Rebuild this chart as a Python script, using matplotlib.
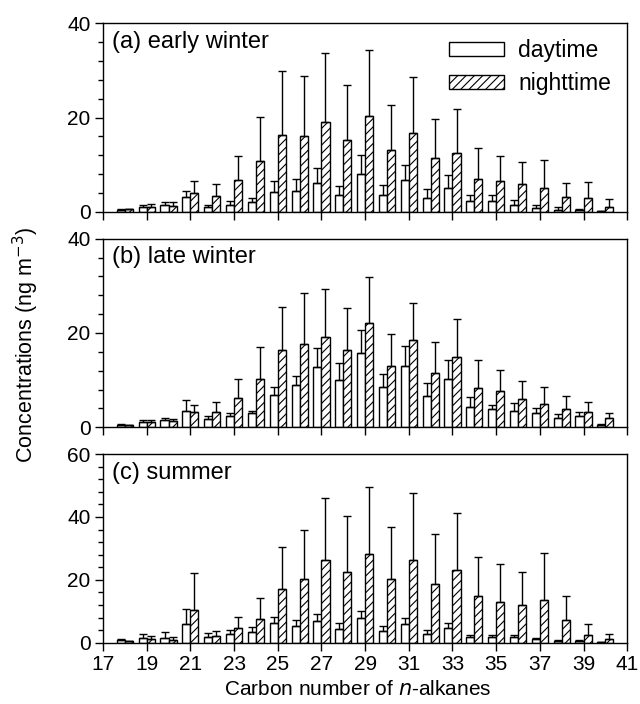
import matplotlib
matplotlib.use("Agg")
import matplotlib.pyplot as plt
import numpy as np
from matplotlib.ticker import MultipleLocator

plt.rcParams['font.family'] = ['Liberation Sans', 'DejaVu Sans']
plt.rcParams['hatch.linewidth'] = 0.8

# carbon numbers C18 - C40
carbon = np.arange(18, 41)

# (a) early winter
ew_day = [0.5, 1.05, 1.4, 3.1, 1.1, 1.55, 2.0, 4.2, 4.4, 6.1, 3.6, 8.0,
          3.6, 6.8, 3.0, 5.1, 2.3, 2.3, 1.5, 0.85, 0.4, 0.3, 0.1]
ew_day_err = [0.1, 0.35, 0.7, 1.4, 0.4, 0.7, 1.0, 2.3, 2.6, 3.3, 1.8, 4.0,
              2.2, 3.2, 1.9, 2.8, 1.3, 1.3, 1.1, 0.65, 0.7, 0.4, 0.1]
ew_night = [0.55, 1.05, 1.3, 4.1, 3.3, 6.7, 10.8, 16.3, 16.0, 19.0, 15.2, 20.4,
            13.1, 16.8, 11.4, 12.5, 7.0, 6.5, 5.9, 5.1, 3.2, 3.0, 1.0]
ew_night_err = [0.1, 0.55, 0.7, 2.4, 2.6, 5.2, 9.3, 13.6, 12.9, 14.6, 11.6, 13.9,
                9.6, 11.7, 8.4, 9.4, 6.5, 5.3, 4.7, 5.9, 2.9, 3.3, 1.75]

# (b) late winter
lw_day = [0.5, 1.2, 1.5, 3.5, 1.8, 2.5, 3.0, 6.9, 8.9, 12.8, 10.1, 15.8,
          8.5, 13.0, 6.7, 10.2, 4.3, 3.8, 3.5, 3.0, 2.0, 2.5, 0.5]
lw_day_err = [0.1, 0.4, 0.5, 2.2, 0.5, 0.5, 0.5, 1.7, 2.0, 4.0, 3.5, 4.8,
              2.8, 4.2, 2.7, 4.0, 2.1, 1.0, 1.7, 1.0, 0.8, 0.8, 0.2]
lw_night = [0.4, 1.2, 1.3, 3.2, 3.2, 6.2, 10.3, 16.3, 17.7, 19.1, 16.3, 22.1,
            13.0, 18.5, 11.5, 14.9, 8.4, 7.7, 6.0, 5.0, 3.9, 3.2, 2.0]
lw_night_err = [0.1, 0.4, 0.5, 1.6, 2.15, 4.15, 6.8, 9.3, 10.7, 10.2, 9.1, 9.7,
                6.8, 7.8, 6.5, 8.0, 5.8, 4.5, 3.9, 3.6, 2.7, 2.2, 1.0]

# (c) summer
su_day = [0.85, 1.6, 1.4, 6.1, 1.8, 2.9, 3.4, 6.2, 5.4, 7.05, 4.5, 7.9,
          3.8, 6.1, 2.9, 4.6, 1.9, 1.8, 1.7, 1.05, 0.6, 0.6, 0.1]
su_day_err = [0.2, 1.2, 1.9, 4.6, 1.4, 1.2, 1.5, 2.0, 1.9, 2.15, 1.8, 2.1,
              1.6, 1.9, 1.3, 1.8, 0.7, 0.7, 0.9, 0.35, 0.2, 0.2, 0.1]
su_night = [0.6, 1.15, 0.85, 10.3, 2.0, 4.8, 7.7, 17.1, 20.2, 26.2, 22.5, 28.3,
            20.2, 26.3, 18.7, 23.2, 14.9, 12.9, 11.9, 13.5, 7.2, 2.6, 1.05]
su_night_err = [0.1, 1.15, 1.05, 12.0, 1.6, 3.4, 6.4, 13.2, 15.7, 19.9, 17.7, 21.2,
                16.5, 21.4, 16.0, 18.0, 12.5, 12.0, 10.7, 15.0, 7.6, 3.5, 1.85]

panels = [
    ("(a) early winter", ew_day, ew_day_err, ew_night, ew_night_err, 40),
    ("(b) late winter", lw_day, lw_day_err, lw_night, lw_night_err, 40),
    ("(c) summer", su_day, su_day_err, su_night, su_night_err, 60),
]

fig = plt.figure(figsize=(6.4, 7.04), dpi=100)
left, width = 0.161, 0.819
bottoms = [0.699, 0.393, 0.087]
height = 0.268

width_bar = 0.37
err_kw = dict(ecolor='black', elinewidth=1, capsize=3, capthick=1)

for i, (title, day, day_err, night, night_err, ymax) in enumerate(panels):
    ax = fig.add_axes([left, bottoms[i], width, height])
    zeros = np.zeros(len(carbon))
    ax.bar(carbon - width_bar / 2, day, width_bar, color='white', edgecolor='black',
           linewidth=1, yerr=[zeros, day_err], error_kw=err_kw, label='daytime')
    ax.bar(carbon + width_bar / 2, night, width_bar, color='white', edgecolor='black',
           linewidth=1, hatch='////', yerr=[zeros, night_err], error_kw=err_kw,
           label='nighttime')
    ax.set_xlim(17, 41)
    ax.set_ylim(0, ymax)
    ax.set_xticks(np.arange(17, 42, 2))
    ax.yaxis.set_major_locator(MultipleLocator(20))
    ax.yaxis.set_minor_locator(MultipleLocator(4))
    ax.tick_params(axis='both', which='major', direction='out', length=6, width=1,
                   labelsize=15, pad=3)
    ax.tick_params(axis='y', which='minor', direction='out', length=3.5, width=1)
    if i < 2:
        ax.tick_params(axis='x', labelbottom=False)
    for s in ax.spines.values():
        s.set_linewidth(1)
    ax.text(0.017, 0.96, title, transform=ax.transAxes, ha='left', va='top',
            fontsize=17)
    if i == 0:
        ax.legend(loc='upper right', frameon=False, fontsize=16.5, handlelength=2.4,
                  handleheight=0.55, handletextpad=0.6, labelspacing=0.45,
                  borderaxespad=0.2, bbox_to_anchor=(0.995, 0.99))
    if i == 2:
        ax.set_xlabel('Carbon number of $n$-alkanes', fontsize=15, labelpad=3)
        ax.xaxis.set_label_coords(0.485, -0.195)

fig.text(0.04, 0.51, 'Concentrations (ng m$^{-3}$)', rotation=90, ha='center',
         va='center', fontsize=15.5)

fig.savefig('out.png', dpi=100)
